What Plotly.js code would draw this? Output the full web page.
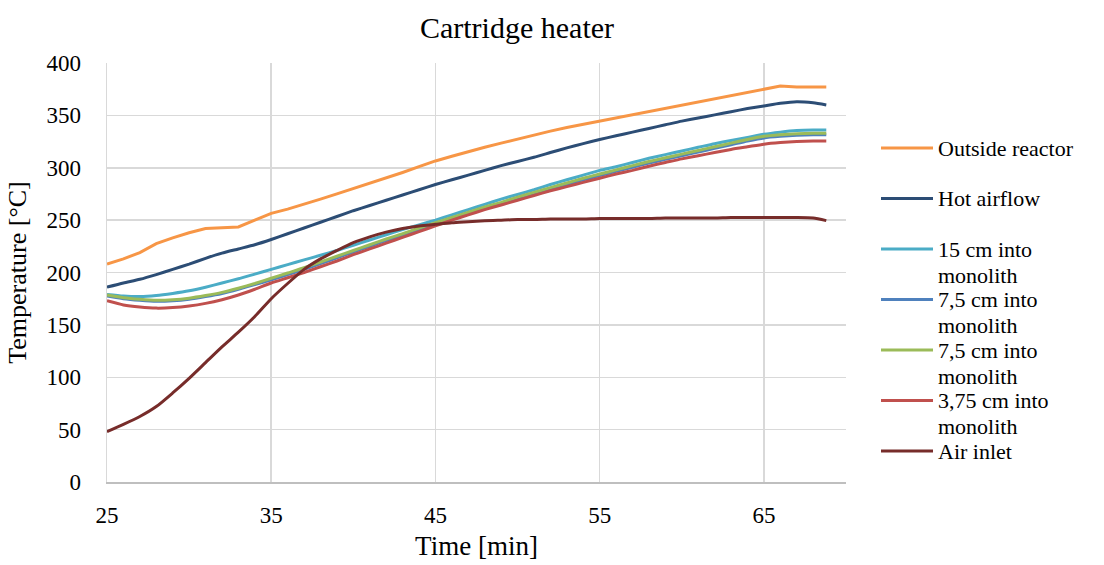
<!DOCTYPE html>
<html>
<head>
<meta charset="utf-8">
<script src="https://cdn.plot.ly/plotly-3.0.1.min.js"></script>
<style>
  html, body { margin: 0; padding: 0; background: #ffffff; }
  #chart { width: 1104px; height: 565px; }
</style>
</head>
<body>
<div id="chart"></div>
<script>
// Time axis shared by all measurement series [min]
const time = [25, 26, 27, 28, 29, 30, 31, 32, 33, 34, 35, 36, 37, 38, 39, 40, 41, 42, 43, 44,
  45, 46, 47, 48, 49, 50, 51, 52, 53, 54, 55, 56, 57, 58, 59, 60, 61, 62, 63, 64,
  65, 66, 67, 68, 68.8];

// Temperatures [°C]
const outsideReactor = [208, 213, 219, 227.5, 233, 238, 242, 243, 243.5, 250, 256.5, 260.5, 265, 270, 275, 280, 285, 290, 295.5, 301,
  306.5, 311, 315.5, 319.5, 323.5, 327.5, 331.5, 335, 338.5, 341.5, 344.5, 347.5, 350.5, 353.5, 356.5, 359.5, 362.5, 365.5, 368.5, 371.5,
  374.5, 378, 377, 377, 377];
const hotAirflow = [186, 190, 193.5, 198, 203, 208, 213.5, 218.5, 222.5, 226.5, 231.5, 237, 242.5, 248, 253.5, 259, 264, 269, 274, 279,
  284, 288.5, 293, 297.5, 302, 306, 310, 314.5, 319, 323, 327, 330.5, 334, 337.5, 341, 344.5, 347.5, 350.5, 353.5, 356.5,
  359, 361.5, 363, 362, 360];
const monolith15 = [179, 177.5, 177, 178, 180, 182.5, 186, 190, 194, 198.5, 203, 207.5, 212, 216.5, 221, 226, 231, 236, 241, 245.5,
  250, 255, 260, 265, 270, 274.5, 279, 284, 288.5, 293, 297.5, 301, 305, 309, 312.5, 316, 319.5, 323, 326, 329,
  332, 334, 335.5, 336, 336];
const monolith75a = [177.5, 175, 173.5, 172.5, 173, 174.5, 177, 180, 184, 188.5, 193, 198, 203, 208.5, 214, 219.5, 225, 230.5, 235.5, 241,
  246, 251, 256, 261, 265.5, 270.5, 275, 279.5, 284, 288.5, 292.5, 296.5, 300.5, 304.5, 308, 311.5, 315, 318.5, 322, 325.5,
  328.5, 330, 331, 331.5, 331.5];
const monolith75b = [178.5, 176, 174.5, 173.5, 174, 175.5, 178, 181, 185, 189.5, 194.5, 199.5, 204.5, 210, 215.5, 221, 226.5, 232, 237, 242.5,
  247.5, 252.5, 257.5, 262.5, 267, 272, 276.5, 281, 285.5, 290, 294, 298, 302, 306, 309.5, 313, 316.5, 320, 323.5, 327,
  330, 331.5, 332.5, 333, 333];
const monolith375 = [173, 169, 167, 166, 166.5, 168, 170.5, 174, 178.5, 184, 190, 195, 200, 205.5, 211, 217, 222.5, 228, 233.5, 239,
  244.5, 250, 255, 260, 264.5, 269, 273.5, 278, 282, 286, 290, 294, 297.5, 301.5, 305, 308.5, 311.5, 314.5, 317.5, 320,
  322.5, 324, 325, 325.5, 325.5];
const airInlet = [48, 55, 62.5, 72, 85, 99, 114, 129, 143, 158, 175, 189.5, 203, 213, 221, 228.5, 234, 238.5, 242, 244.5,
  246, 247.5, 248.5, 249.5, 250, 250.5, 250.5, 251, 251, 251, 251.5, 251.5, 251.5, 251.5, 252, 252, 252, 252, 252.5, 252.5,
  252.5, 252.5, 252.5, 252, 249.5];

const seriesNames = ['Outside reactor', 'Hot airflow', '15 cm into monolith', '7,5 cm into monolith',
  '7,5 cm into monolith', '3,75 cm into monolith', 'Air inlet'];
const seriesValues = [outsideReactor, hotAirflow, monolith15, monolith75a, monolith75b, monolith375, airInlet];
const seriesColors = ['#f79646', '#2c4d75', '#4bacc6', '#4f81bd', '#9bbb59', '#c0504d', '#772c2a'];

const FONT = 'Liberation Serif, Times New Roman, serif';

// Plot-area geometry in pixels
const W = 1104, H = 565;
const M = { l: 107, r: 258, t: 63, b: 83 };
const PW = W - M.l - M.r, PH = H - M.t - M.b;
const toPaperX = px => (px - M.l) / PW;
const toPaperY = py => (H - M.b - py) / PH;

const traces = seriesValues.map((vals, i) => ({
  type: 'scatter',
  mode: 'lines',
  x: time,
  y: vals,
  name: seriesNames[i],
  line: { color: seriesColors[i], width: 3, shape: i === 0 ? 'linear' : 'spline', smoothing: 0.6 },
  showlegend: false,
  hoverinfo: 'x+y+name'
}));

// Legend drawn at the right of the plot: short line sample + label wrapped after "into"
const shapes = [];
const annotations = [];
const legendTop = 148, legendStep = 50.5, legendLineGap = 26;
seriesNames.forEach((name, i) => {
  const py = legendTop + i * legendStep;
  shapes.push({
    type: 'line', xref: 'paper', yref: 'paper',
    x0: toPaperX(881), x1: toPaperX(933), y0: toPaperY(py), y1: toPaperY(py),
    line: { color: seriesColors[i], width: 3 }
  });
  const lines = name.replace(' into monolith', ' into\nmonolith').split('\n');
  lines.forEach((txt, k) => {
    annotations.push({
      xref: 'paper', yref: 'paper',
      x: toPaperX(937), y: toPaperY(py + k * legendLineGap),
      xanchor: 'left', yanchor: 'middle', align: 'left',
      text: txt, showarrow: false, borderpad: 0,
      font: { family: FONT, size: 22, color: '#000000' }
    });
  });
});

const layout = {
  width: W, height: H,
  margin: M,
  paper_bgcolor: '#ffffff',
  plot_bgcolor: '#ffffff',
  font: { family: FONT, size: 22, color: '#000000' },
  title: {
    text: 'Cartridge heater',
    font: { family: FONT, size: 30, color: '#000000' },
    x: 517 / W, xref: 'container', xanchor: 'center',
    y: 1 - 27 / H, yref: 'container', yanchor: 'middle'
  },
  xaxis: {
    range: [25, 70],
    tick0: 25, dtick: 10,
    showgrid: true, gridcolor: '#d9d9d9', gridwidth: 1.5,
    showline: true, linecolor: '#bfbfbf', linewidth: 1.5,
    zeroline: false, ticks: '',
    ticklabelstandoff: 12,
    tickfont: { family: FONT, size: 23, color: '#000000' },
    title: { text: 'Time [min]', font: { family: FONT, size: 27, color: '#000000' }, standoff: 9 }
  },
  yaxis: {
    range: [0, 400],
    tick0: 0, dtick: 50,
    showgrid: true, gridcolor: '#d9d9d9', gridwidth: 1.5,
    showline: true, linecolor: '#d9d9d9', linewidth: 1.5,
    zeroline: false, ticks: '',
    ticklabelstandoff: 20,
    tickfont: { family: FONT, size: 23, color: '#000000' },
    title: { text: 'Temperature [°C]', font: { family: FONT, size: 26, color: '#000000' }, standoff: 12 }
  },
  shapes: shapes,
  annotations: annotations
};

Plotly.newPlot('chart', traces, layout, { displayModeBar: false, staticPlot: true });
</script>
</body>
</html>
